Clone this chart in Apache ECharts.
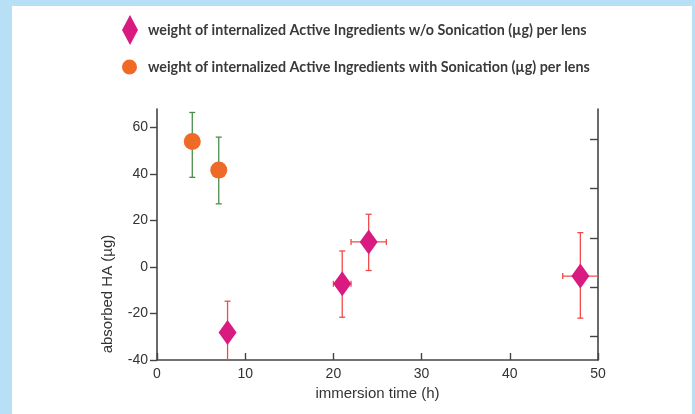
<!DOCTYPE html>
<html><head><meta charset="utf-8">
<script src="https://cdn.jsdelivr.net/npm/echarts@6/dist/echarts.min.js"></script>
<style>
html,body{margin:0;padding:0;width:695px;height:414px;background:#b7e0f6;overflow:hidden;}
#c{position:absolute;left:12px;top:6px;width:680px;height:408px;background:#fff;}
</style></head><body><div id="c"></div>
<script>
// ---- data ----
const nameWo = 'weight of internalized Active Ingredients w/o Sonication (µg) per lens';
const nameWith = 'weight of internalized Active Ingredients with Sonication (µg) per lens';
const xTitle = 'immersion time (h)';
const yTitle = 'absorbed HA (µg)';
const yTicks = [-40, -20, 0, 20, 40, 60];

const withX = [4, 7];
const withY = [54, 41.7];
const withLow = [38.6, 27.2];
const withHigh = [66.5, 55.9];

const woX = [8, 21, 24, 48];
const woY = [-28.2, -7.2, 10.8, -3.9];
const woLow = [-43, -21.6, -1.5, -22.0];
const woHigh = [-14.7, 6.9, 22.7, 14.8];
const woXLow = [null, 20, 22, 46];
const woXHigh = [null, 22, 26, 50];

// ---- build ----
function errData(xs, ys, lo, hi, xl, xh) {
  return xs.map((x, i) => [x, ys[i], lo[i], hi[i], xl ? xl[i] : null, xh ? xh[i] : null]);
}
function errRenderer(color) {
  return function (params, api) {
    const x = api.value(0), y = api.value(1), lo = api.value(2), hi = api.value(3);
    const xl = api.value(4), xh = api.value(5);
    const st = { stroke: color, lineWidth: 1.3 };
    const cap = 3;
    const a = api.coord([x, lo]), b = api.coord([x, hi]);
    const ch = [
      { type: 'line', shape: { x1: a[0], y1: a[1], x2: b[0], y2: b[1] }, style: st },
      { type: 'line', shape: { x1: a[0] - cap, y1: a[1], x2: a[0] + cap, y2: a[1] }, style: st },
      { type: 'line', shape: { x1: b[0] - cap, y1: b[1], x2: b[0] + cap, y2: b[1] }, style: st }
    ];
    if (xl != null && !isNaN(xl) && xh != null && !isNaN(xh)) {
      const l = api.coord([xl, y]), r = api.coord([xh, y]);
      ch.push({ type: 'line', shape: { x1: l[0], y1: l[1], x2: r[0], y2: r[1] }, style: st });
      ch.push({ type: 'line', shape: { x1: l[0], y1: l[1] - cap, x2: l[0], y2: l[1] + cap }, style: st });
      ch.push({ type: 'line', shape: { x1: r[0], y1: r[1] - cap, x2: r[0], y2: r[1] + cap }, style: st });
    }
    return { type: 'group', children: ch };
  };
}

const magenta = '#d91a80', orange = '#ef6a27', green = '#4b8d4b', red = '#f24a48';
const axisCol = '#444';
const lblStyle = { color: '#333', fontFamily: 'Liberation Sans, Arial, sans-serif', fontSize: 14 };
const legText = { color: '#3a3a3a', fontFamily: 'Lato, sans-serif', fontWeight: 'bold', fontSize: 14.3 };

const chart = echarts.init(document.getElementById('c'));
chart.setOption({
  animation: false,
  grid: { left: 145, right: 94, top: 103, bottom: 54, containLabel: false },
  legend: [
    { data: [{ name: nameWo, icon: 'diamond' }], left: 110, top: 9, padding: 0, itemWidth: 16, itemHeight: 30,
      selectedMode: false, textStyle: Object.assign({ padding: [0, 0, 0, 5] }, legText) },
    { data: [{ name: nameWith, icon: 'circle' }], left: 110, top: 53.5, padding: 0, itemWidth: 15, itemHeight: 15,
      selectedMode: false, textStyle: Object.assign({ padding: [0, 0, 0, 6] }, legText) }
  ],
  xAxis: {
    type: 'value', min: 0, max: 50, interval: 10,
    name: xTitle, nameLocation: 'middle', nameGap: 26,
    nameTextStyle: { color: '#333', fontFamily: 'Liberation Sans, Arial, sans-serif', fontSize: 15 },
    axisLine: { show: true, onZero: false, lineStyle: { color: axisCol, width: 1.6 } },
    axisTick: { show: true, inside: true, length: 7, lineStyle: { color: axisCol, width: 1.4 } },
    axisLabel: Object.assign({ margin: 7 }, lblStyle),
    splitLine: { show: false }
  },
  yAxis: [
    {
      type: 'value', min: -40, max: 68, position: 'left',
      axisLine: { show: true, onZero: false, lineStyle: { color: axisCol, width: 1.6 } },
      axisTick: { show: true, inside: false, length: 7, customValues: yTicks, lineStyle: { color: axisCol, width: 1.4 } },
      axisLabel: Object.assign({ margin: 9, customValues: yTicks }, lblStyle),
      splitLine: { show: false }
    },
    {
      type: 'value', min: -0.472, max: 4.61, position: 'right',
      axisLine: { show: true, onZero: false, lineStyle: { color: axisCol, width: 1.6 } },
      axisTick: { show: true, inside: true, length: 8, customValues: [0, 1, 2, 3, 4], lineStyle: { color: axisCol, width: 1.4 } },
      axisLabel: { show: false },
      splitLine: { show: false }
    }
  ],
  graphic: [{
    type: 'text', x: 96, y: 288, rotation: Math.PI / 2,
    style: { text: yTitle, fill: '#333', font: '15px "Liberation Sans", Arial, sans-serif', align: 'center', verticalAlign: 'middle' }
  }],
  series: [
    { type: 'custom', name: 'errWith', clip: true, z: 2, renderItem: errRenderer(green),
      encode: { x: 0, y: 1 }, data: errData(withX, withY, withLow, withHigh) },
    { type: 'custom', name: 'errWo', clip: true, z: 2, renderItem: errRenderer(red),
      encode: { x: 0, y: 1 }, data: errData(woX, woY, woLow, woHigh, woXLow, woXHigh) },
    { type: 'scatter', name: nameWith, symbol: 'circle', symbolSize: 17, z: 5,
      itemStyle: { color: orange, opacity: 1 }, data: withX.map((x, i) => [x, withY[i]]) },
    { type: 'scatter', name: nameWo, symbol: 'diamond', symbolSize: [18, 25], z: 5,
      itemStyle: { color: magenta, opacity: 1 }, data: woX.map((x, i) => [x, woY[i]]) }
  ]
});
</script></body></html>
